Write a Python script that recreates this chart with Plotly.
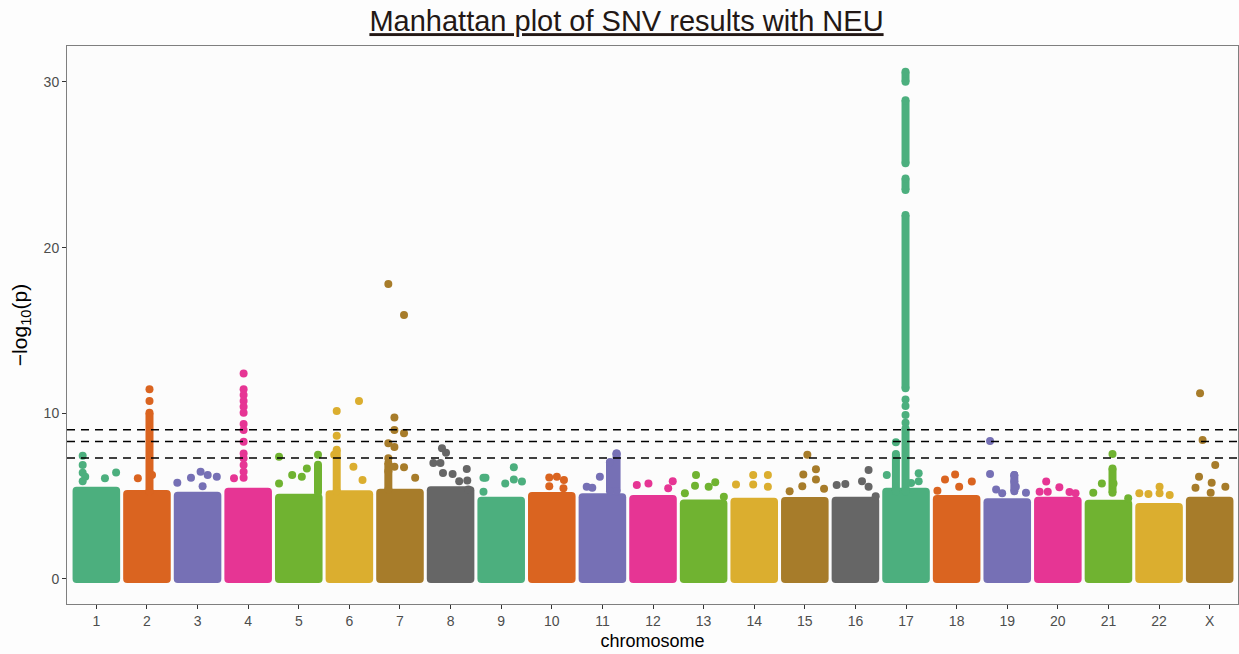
import plotly.graph_objects as go

# ---------------- data ----------------
chroms = ['1', '2', '3', '4', '5', '6', '7', '8', '9', '10', '11', '12',
          '13', '14', '15', '16', '17', '18', '19', '20', '21', '22', 'X']
palette = ['#4CAF7E', '#DA6420', '#7670B5', '#E63594',
           '#70B331', '#DBAE2F', '#A77C2A', '#666666']

# top edge of the dense cloud of SNVs per chromosome (-log10 p)
blob_top = [5.57, 5.37, 5.27, 5.5, 5.15, 5.35, 5.45, 5.6, 4.97, 5.25, 5.17, 5.07,
            4.8, 4.9, 4.95, 4.97, 5.5, 5.07, 4.87, 4.97, 4.78, 4.58, 4.97]

# individual visible SNVs: chromosome, offset within chromosome band, -log10 p
pt_chrom = (['1'] * 7 + ['2'] * 4 + ['3'] * 6 + ['4'] * 15 + ['5'] * 6 + ['6'] * 6 +
            ['7'] * 12 + ['8'] * 10 + ['9'] * 7 + ['10'] * 5 + ['11'] * 5 + ['12'] * 4 +
            ['13'] * 6 + ['14'] * 5 + ['15'] * 7 + ['16'] * 6 + ['17'] * 9 + ['18'] * 5 +
            ['19'] * 8 + ['20'] * 6 + ['21'] * 5 + ['22'] * 5 + ['X'] * 8)
pt_offset = [-0.27, -0.27, -0.27, -0.22, 0.17, 0.39, -0.27,
             0.05, 0.05, -0.18, 0.10,
             -0.40, -0.13, 0.06, 0.20, 0.38, 0.10,
             -0.09, -0.09, -0.09, -0.09, -0.09, -0.09, -0.09, -0.09, -0.09, -0.09,
             -0.09, -0.09, -0.09, -0.09, -0.28,
             -0.39, -0.39, -0.13, 0.06, 0.16, 0.38,
             -0.25, 0.19, -0.25, -0.30, 0.08, 0.26,
             -0.23, 0.08, -0.11, -0.11, 0.08, -0.23, -0.11, -0.23, -0.11, 0.08, 0.30, -0.23,
             -0.17, -0.09, -0.34, -0.20, -0.15, 0.04, 0.32, 0.17, 0.33, 0.35,
             -0.35, -0.31, 0.25, 0.08, 0.25, 0.41, -0.35,
             -0.05, 0.10, 0.24, -0.05, 0.23,
             0.28, 0.15, -0.05, -0.31, -0.20,
             -0.32, -0.09, 0.39, 0.30,
             -0.15, -0.17, 0.23, 0.10, 0.40, -0.37,
             -0.02, 0.27, -0.02, -0.36, 0.27,
             0.05, -0.03, 0.22, 0.22, -0.05, 0.38, -0.30,
             0.26, 0.13, 0.26, -0.37, -0.20, 0.40,
             -0.01, -0.01, -0.01, -0.01, -0.20, -0.38, 0.25, 0.25, 0.10,
             -0.23, -0.03, 0.30, 0.05, -0.38,
             -0.34, -0.34, 0.14, 0.14, 0.17, 0.37, -0.22, -0.10,
             -0.23, -0.20, 0.03, 0.23, 0.35, -0.36,
             0.08, -0.13, 0.10, -0.30, 0.39,
             -0.39, -0.21, 0.01, 0.01, 0.21,
             -0.19, -0.14, 0.11, -0.21, 0.04, 0.31, -0.28, 0.02]
pt_logp = [7.44, 6.88, 6.41, 6.17, 6.08, 6.43, 5.90,
           11.45, 10.74, 6.08, 6.28,
           5.81, 6.11, 6.47, 6.27, 6.17, 5.60,
           12.41, 11.45, 11.11, 10.74, 10.40, 10.03, 9.35, 8.99, 8.29, 7.58,
           7.28, 6.88, 6.47, 6.11, 6.08,
           7.38, 5.77, 6.27, 6.17, 6.67, 7.50,
           10.14, 10.74, 8.64, 7.50, 6.78, 5.98,
           17.80, 15.93, 9.74, 8.99, 8.79, 8.20, 7.96, 7.28, 6.78, 6.74, 6.11, 6.50,
           7.89, 7.62, 7.00, 7.00, 6.40, 6.34, 6.64, 5.90, 5.94, 5.40,
           6.11, 6.11, 6.74, 5.77, 6.01, 5.88, 5.27,
           6.13, 6.17, 5.98, 5.60, 5.47,
           7.58, 7.04, 6.17, 5.57, 5.50,
           5.67, 5.77, 5.90, 5.47,
           6.28, 5.63, 5.84, 5.57, 4.97, 5.17,
           6.28, 6.28, 5.71, 5.71, 5.57,
           7.50, 6.31, 6.62, 6.01, 5.60, 5.45, 5.30,
           6.58, 5.90, 5.57, 5.67, 5.73, 5.00,
           10.84, 10.44, 9.90, 9.43, 8.25, 6.28, 6.38, 5.90, 5.80,
           6.01, 6.31, 5.88, 5.57, 5.33,
           8.33, 6.34, 6.28, 5.88, 5.57, 5.21, 5.40, 5.17,
           5.88, 5.27, 5.53, 5.25, 5.17, 5.27,
           7.54, 5.77, 5.77, 5.21, 4.87,
           5.17, 5.13, 5.57, 5.17, 5.07,
           11.21, 8.39, 6.88, 6.17, 5.81, 5.57, 5.51, 5.21]

# runs of densely packed SNVs (drawn as continuous columns)
run_chrom = ['2', '5', '6', '7', '11', '11', '17', '17', '17', '17', '17', '17', '19', '21']
run_offset = [0.05, 0.38, -0.25, -0.23, 0.28, 0.15, -0.01, -0.01, -0.01, -0.01, -0.01,
              -0.20, 0.14, 0.08]
run_lo = [5.3, 5.2, 5.3, 5.4, 5.3, 5.3, 30.01, 25.09, 23.48, 11.51, 5.3, 5.3, 5.3, 5.2]
run_hi = [10.03, 6.9, 7.8, 7.0, 7.58, 7.04, 30.62, 28.90, 24.18, 21.97, 9.09, 7.54, 6.28, 6.67]

thresholds = [7.3, 8.3, 9.0]

# ---------------- figure ----------------
MARKER = 8           # marker diameter in px
PX_PER_UNIT = 16.57  # vertical px per -log10 unit
r_units = (MARKER / 2) / PX_PER_UNIT

pos = {c: i + 1 for i, c in enumerate(chroms)}
col = {c: palette[i % len(palette)] for i, c in enumerate(chroms)}

fig = go.Figure()

fig.add_trace(go.Bar(
    x=[pos[c] for c in chroms],
    y=[t + r_units for t in blob_top],
    base=-r_units,
    width=0.94,
    marker=dict(color=[col[c] for c in chroms], line=dict(width=0)),
    hoverinfo='skip', showlegend=False,
))

for c in chroms:
    xs, ys = [], []
    for rc, ro, lo, hi in zip(run_chrom, run_offset, run_lo, run_hi):
        if rc == c:
            xs += [pos[c] + ro, pos[c] + ro, None]
            ys += [lo, hi, None]
    if xs:
        fig.add_trace(go.Scatter(
            x=xs, y=ys, mode='lines+markers',
            line=dict(color=col[c], width=MARKER),
            marker=dict(color=col[c], size=MARKER, line=dict(width=0)),
            hoverinfo='skip', showlegend=False,
        ))

for c in chroms:
    xs = [pos[c] + o for pc, o in zip(pt_chrom, pt_offset) if pc == c]
    ys = [v for pc, v in zip(pt_chrom, pt_logp) if pc == c]
    fig.add_trace(go.Scatter(
        x=xs, y=ys, mode='markers',
        marker=dict(color=col[c], size=MARKER, line=dict(width=0)),
        showlegend=False,
    ))

for t in thresholds:
    fig.add_shape(type='line', xref='paper', x0=0, x1=1, yref='y', y0=t, y1=t,
                  line=dict(color='black', width=1.5, dash='8px,6px'))

font = 'Liberation Sans, Arial, Helvetica, sans-serif'
fig.update_layout(
    width=1239, height=654, autosize=False,
    margin=dict(l=67, r=1, t=46, b=50),
    paper_bgcolor='#FDFDFD', plot_bgcolor='#FCFCFC',
    barcornerradius=4,
    font=dict(family=font, color='#4D4D4D'),
    title=dict(text='<u>Manhattan plot of SNV results with NEU</u>',
               font=dict(family=font, size=29, color='#231815'),
               x=626.5 / 1239, xref='container', xanchor='center',
               y=1 - 21 / 654, yref='container', yanchor='middle'),
    xaxis=dict(range=[0.42, 23.56], tickmode='array',
               tickvals=[pos[c] for c in chroms], ticktext=chroms,
               ticks='outside', ticklen=4, tickcolor='#333333',
               tickfont=dict(size=14, color='#4D4D4D'),
               showline=True, linecolor='#7F7F7F', linewidth=1, mirror=True,
               showgrid=False, zeroline=False,
               title=dict(text='chromosome', font=dict(size=18, color='black'), standoff=6)),
    yaxis=dict(range=[-1.51, 32.17], tickmode='array', tickvals=[0, 10, 20, 30],
               ticks='outside', ticklen=4, tickcolor='#333333',
               tickfont=dict(size=14, color='#4D4D4D'),
               showline=True, linecolor='#7F7F7F', linewidth=1, mirror=True,
               showgrid=False, zeroline=False,
               title=dict(text='\u2212log<sub>10</sub>(p)', font=dict(size=21, color='black'),
                          standoff=10)),
)

fig.write_html('out.html')
